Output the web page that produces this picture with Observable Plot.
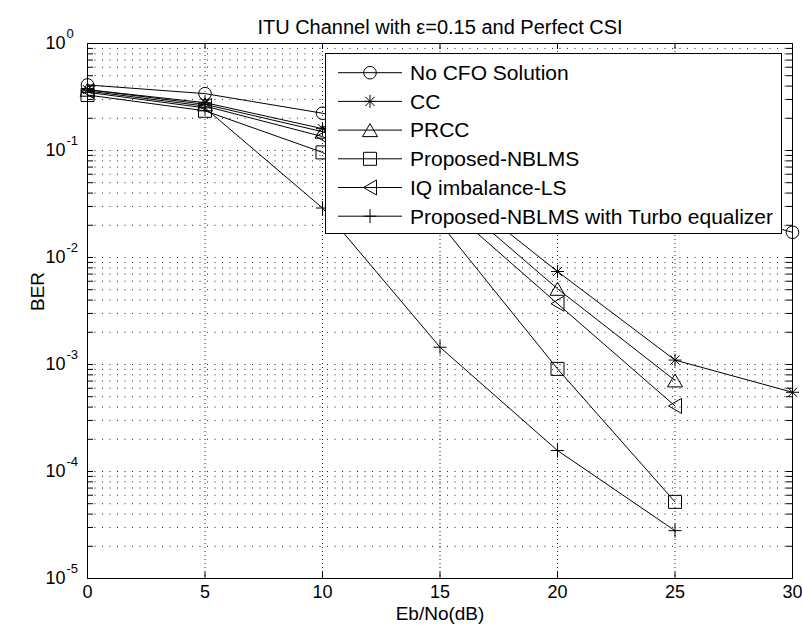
<!DOCTYPE html>
<html>
<head>
<meta charset="utf-8">
<script src="https://cdn.jsdelivr.net/npm/d3@7"></script>
<script src="https://cdn.jsdelivr.net/npm/@observablehq/plot@0.6"></script>
<style>
  html, body { margin: 0; padding: 0; background: #fff; }
  svg { display: block; }
</style>
</head>
<body>
<div id="chart"></div>
<script>
// BER curves versus Eb/No for the ITU channel
const titleText = "ITU Channel with ε=0.15 and Perfect CSI";
const xLabel = "Eb/No(dB)";
const yLabel = "BER";

const seriesNames = [
  "No CFO Solution",
  "CC",
  "PRCC",
  "Proposed-NBLMS",
  "IQ imbalance-LS",
  "Proposed-NBLMS with Turbo equalizer"
];

const ebno = [0, 5, 10, 15, 20, 25, 30];

const berNoCfo  = [0.41, 0.34, 0.223, 0.12, 0.065, 0.034, 0.0172];
const berCC     = [0.37, 0.28, 0.16, 0.055, 0.0074, 0.0011, 0.00055];
const berPRCC   = [0.37, 0.27, 0.15, 0.045, 0.0051, 0.00071];
const berNBLMS  = [0.33, 0.235, 0.096, 0.021, 0.00091, 0.000052];
const berIQLS   = [0.36, 0.26, 0.135, 0.034, 0.0037, 0.00041];
const berTurbo  = [0.35, 0.25, 0.029, 0.00145, 0.000157, 0.000028];

const xTicks = [0, 5, 10, 15, 20, 25, 30];
const yDecades = [1, 1e-1, 1e-2, 1e-3, 1e-4, 1e-5];
const yExponents = ["0", "-1", "-2", "-3", "-4", "-5"];

// Long-format table built from the arrays above
const seriesValues = [berNoCfo, berCC, berPRCC, berNBLMS, berIQLS, berTurbo];
const rows = seriesNames.flatMap((name, i) =>
  seriesValues[i].map((v, j) => ({series: name, x: ebno[j], y: v}))
);

// Decade and minor (2..9) grid positions for the log axis
const yGrid = [];
for (let e = -5; e < 0; e++) {
  for (let m = 1; m <= 9; m++) yGrid.push(m * Math.pow(10, e));
}
yGrid.push(1);

// Line-art marker shapes
const sym = {
  circle: {draw(c) { c.moveTo(6.3, 0); c.arc(0, 0, 6.3, 0, 2 * Math.PI); }},
  asterisk: {draw(c) {
    c.moveTo(0, -6.5); c.lineTo(0, 6.5);
    c.moveTo(-6.5, 0); c.lineTo(6.5, 0);
    c.moveTo(-4.6, -4.6); c.lineTo(4.6, 4.6);
    c.moveTo(-4.6, 4.6); c.lineTo(4.6, -4.6);
  }},
  triangleUp: {draw(c) { c.moveTo(0, -6.5); c.lineTo(7.5, 6.5); c.lineTo(-7.5, 6.5); c.closePath(); }},
  square: {draw(c) { c.moveTo(-6.5, -6.5); c.lineTo(6.5, -6.5); c.lineTo(6.5, 6.5); c.lineTo(-6.5, 6.5); c.closePath(); }},
  triangleLeft: {draw(c) { c.moveTo(-6.5, 0); c.lineTo(6.5, -7.5); c.lineTo(6.5, 7.5); c.closePath(); }},
  plus: {draw(c) { c.moveTo(0, -7); c.lineTo(0, 7); c.moveTo(-6.5, 0); c.lineTo(6.5, 0); }}
};
const seriesSymbols = [sym.circle, sym.asterisk, sym.triangleUp, sym.square, sym.triangleLeft, sym.plus];

const W = 802, H = 637;
const mL = 87, mR = 10, mT = 43, mB = 59;
const frameW = W - mL - mR, frameH = H - mT - mB;
const tick = 6;

const chart = Plot.plot({
  width: W,
  height: H,
  marginLeft: mL,
  marginRight: mR,
  marginTop: mT,
  marginBottom: mB,
  style: {fontFamily: "'Liberation Sans', Arial, Helvetica, sans-serif", fontSize: "18px", color: "#000", background: "#fff", overflow: "visible"},
  x: {domain: [0, 30], axis: null},
  y: {type: "log", domain: [1e-5, 1], axis: null},
  marks: [
    // dotted grid
    Plot.ruleY(yGrid, {stroke: "#222", strokeWidth: 1, strokeDasharray: "1,6.5"}),
    Plot.ruleX(xTicks.slice(1, -1), {stroke: "#222", strokeWidth: 1, strokeDasharray: "1,3"}),
    // inward ticks on all four sides
    Plot.ruleX(xTicks, {stroke: "#000", insetTop: frameH - tick}),
    Plot.ruleX(xTicks, {stroke: "#000", insetBottom: frameH - tick}),
    Plot.ruleY(yGrid, {stroke: "#000", insetRight: frameW - tick}),
    Plot.ruleY(yGrid, {stroke: "#000", insetLeft: frameW - tick}),
    Plot.frame({stroke: "#000", strokeWidth: 1}),
    // curves and markers
    Plot.line(rows, {x: "x", y: "y", z: "series", stroke: "#000", strokeWidth: 1}),
    ...seriesNames.map((name, i) =>
      Plot.dot(rows.filter(d => d.series === name), {
        x: "x", y: "y", symbol: seriesSymbols[i], r: 6,
        stroke: "#000", fill: "none", strokeWidth: 1
      })
    ),
    // tick labels
    Plot.text(xTicks, {x: d => d, frameAnchor: "bottom", dy: 19, fontSize: 18, fill: "#000"}),
    Plot.text(yDecades, {y: d => d, text: () => "10", frameAnchor: "left", textAnchor: "end", dx: -22, fontSize: 18, fill: "#000"}),
    Plot.text(yDecades, {y: d => d, text: (d, i) => yExponents[i], frameAnchor: "left", textAnchor: "start", dx: -21, dy: -10, fontSize: 13, fill: "#000"}),
    // titles
    Plot.text([titleText], {frameAnchor: "top", dy: -24, fontSize: 20, fill: "#000"}),
    Plot.text([xLabel], {frameAnchor: "bottom", dy: 41, fontSize: 19, fill: "#000"}),
    Plot.text([yLabel], {frameAnchor: "left", dx: -50, rotate: -90, fontSize: 19, fill: "#000"})
  ]
});

// Legend box in the upper right of the axes
const svg = d3.select(chart);
const lg = svg.append("g")
  .attr("font-family", "'Liberation Sans', Arial, Helvetica, sans-serif")
  .attr("font-size", 21)
  .attr("text-anchor", "start");
lg.append("rect")
  .attr("x", 325.5).attr("y", 53.5).attr("width", 456).attr("height", 180)
  .attr("fill", "#fff").attr("stroke", "#000");
seriesNames.forEach((name, i) => {
  const cy = 72.7 + i * 28.7;
  lg.append("line").attr("x1", 338).attr("x2", 402).attr("y1", cy).attr("y2", cy)
    .attr("stroke", "#000");
  lg.append("path").attr("d", d3.symbol(seriesSymbols[i])())
    .attr("transform", `translate(370,${cy})`)
    .attr("fill", "none").attr("stroke", "#000");
  lg.append("text").attr("x", 410).attr("y", cy).attr("dy", "0.35em")
    .attr("text-anchor", "start")
    .attr("fill", "#000").text(name);
});

document.getElementById("chart").appendChild(chart);
</script>
</body>
</html>
